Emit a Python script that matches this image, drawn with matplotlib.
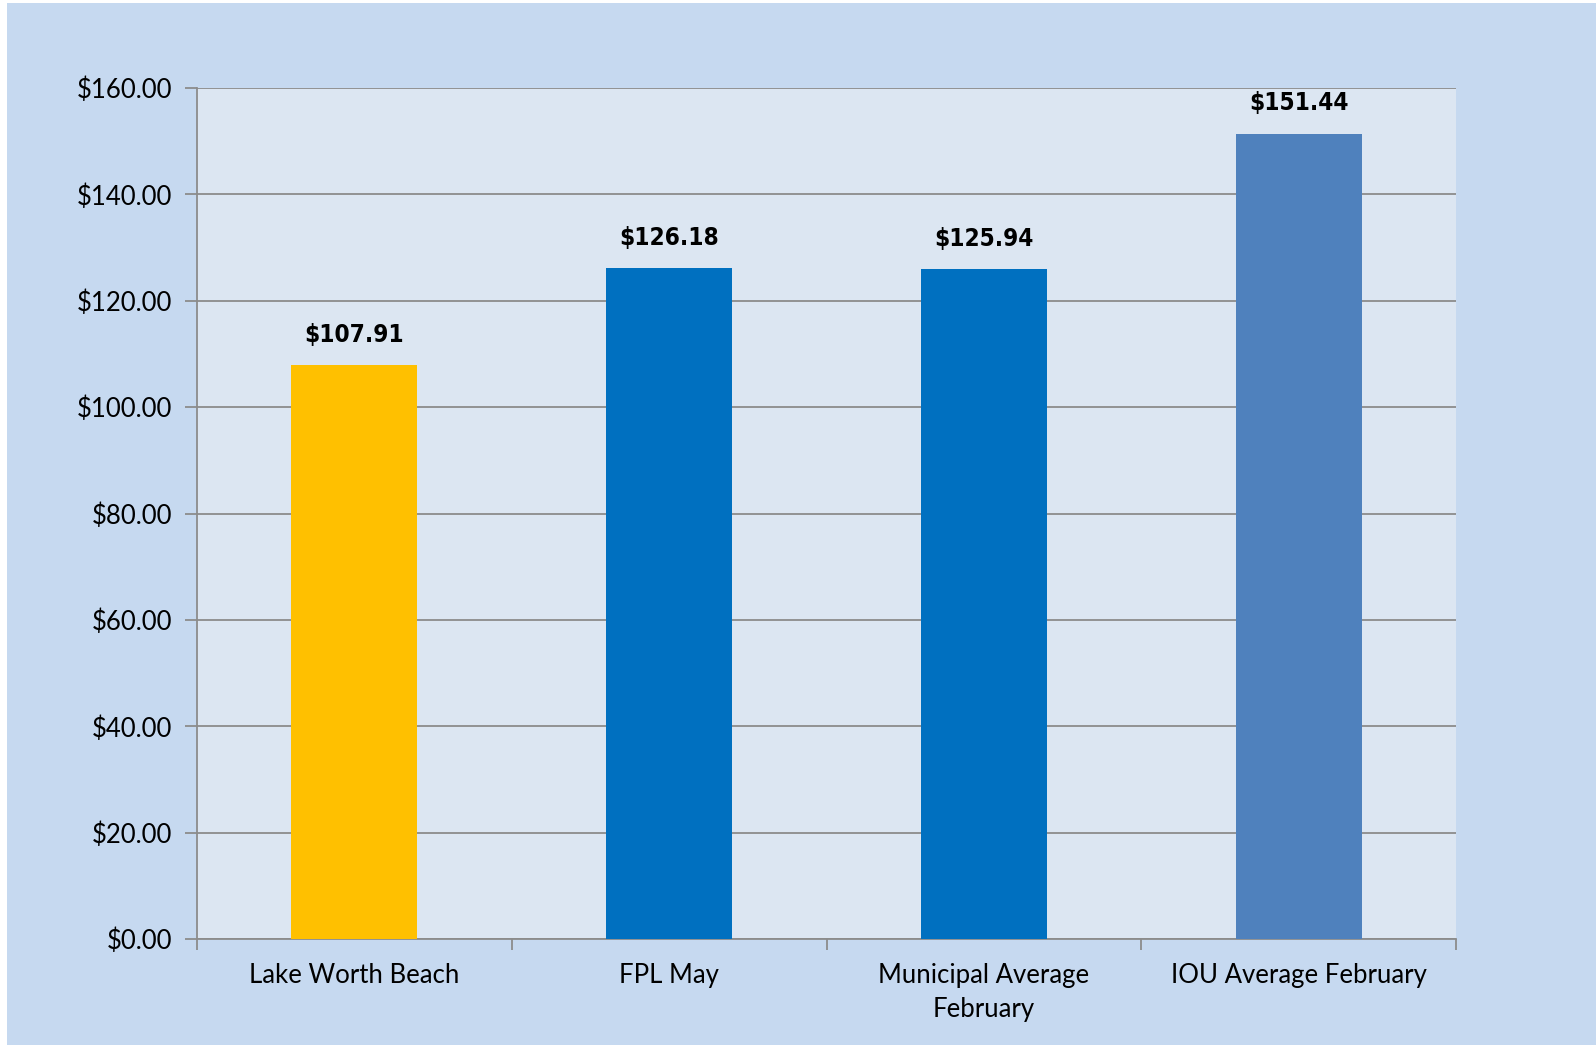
import matplotlib.pyplot as plt
import matplotlib.patches as mpatches
import numpy as np

# data
categories = ['Lake Worth Beach', 'FPL May', 'Municipal Average\nFebruary', 'IOU Average February']
values = [107.91, 126.18, 125.94, 151.44]
bar_colors = ['#FFC000', '#0070C0', '#0070C0', '#4F81BD']
y_ticks = [0, 20, 40, 60, 80, 100, 120, 140, 160]

fig = plt.figure(figsize=(15.96, 10.45), dpi=100, facecolor='white')
# light blue chart area with thin white margin top/left
fig.patches.append(mpatches.Rectangle((7 / 1596, 0), 1 - 7 / 1596, 1 - 3 / 1045,
                                      transform=fig.transFigure, facecolor='#C6D9F0',
                                      edgecolor='none', zorder=-10))

ax = fig.add_axes([197 / 1596, 1 - 939 / 1045, (1456 - 197) / 1596, (939 - 88) / 1045])
ax.set_facecolor('#DCE6F2')

x = np.arange(len(categories))
bars = ax.bar(x, values, width=0.4, color=bar_colors, zorder=3)

ax.set_xlim(-0.5, len(categories) - 0.5)
ax.set_ylim(0, 160)
ax.set_yticks(y_ticks)
ax.set_yticklabels(['$%.2f' % v for v in y_ticks], fontsize=18.5, family=['Lato', 'DejaVu Sans'])
ax.yaxis.grid(True, color='#8C8C8C', linewidth=1.3, zorder=1)
ax.set_axisbelow(True)

ax.set_xticks(x)
ax.set_xticklabels(categories, fontsize=18.5, family=['Lato', 'DejaVu Sans'], linespacing=1.45)
ax.set_xticks(np.arange(-0.5, len(categories)), minor=True)
ax.tick_params(axis='x', which='major', length=0, pad=17)
ax.tick_params(axis='x', which='minor', length=8, width=1.3, color='#8C8C8C')
ax.tick_params(axis='y', length=9, width=1.3, color='#8C8C8C', pad=9)

for side in ['top', 'right']:
    ax.spines[side].set_visible(False)
for side in ['left', 'bottom']:
    ax.spines[side].set_color('#8C8C8C')
    ax.spines[side].set_linewidth(1.3)

for b, v in zip(bars, values):
    ax.annotate('$%.2f' % v, xy=(b.get_x() + b.get_width() / 2, v), xytext=(0, 13),
                textcoords='offset points', ha='center', va='bottom',
                fontsize=17.5, fontweight='bold', fontstretch='condensed',
                family=['Liberation Sans Narrow', 'DejaVu Sans'])

fig.savefig('out.png', dpi=100, facecolor=fig.get_facecolor())
